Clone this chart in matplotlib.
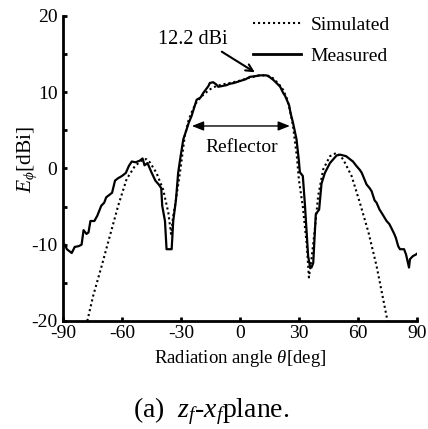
import numpy as np
import matplotlib
matplotlib.use('Agg')
import matplotlib.pyplot as plt
from matplotlib.lines import Line2D

plt.rcParams['font.family'] = ['Liberation Serif', 'DejaVu Serif']
plt.rcParams['mathtext.fontset'] = 'custom'
plt.rcParams['mathtext.rm'] = 'Liberation Serif'
plt.rcParams['mathtext.it'] = 'Liberation Serif:italic'
plt.rcParams['axes.unicode_minus'] = False

# measured pattern (deg, dBi)
theta_meas = [-90, -89, -88, -86, -85.5, -84, -82, -80.5, -79.5, -78, -77, -76, -74,
              -72.5, -70.5, -69, -68, -66, -65, -63.5, -62, -60, -58, -56.5, -55,
              -53, -51, -50, -49.5, -48.5, -47, -45, -43, -41, -40, -39.5, -38.1,
              -37.3, -34.7, -33.9, -32.5, -31.4, -30.5, -28.8, -27.1, -26, -24.6,
              -22, -20, -18.6, -16, -15.3, -13.6, -12, -11, -9, -7, -5, -3, 0, 3,
              5, 8, 10, 12, 13.5, 15, 17, 19, 20.5, 22, 23, 25, 25.8, 27, 28.8, 30,
              30.5, 32, 33, 34.7, 35.6, 36.4, 37.3, 38.6, 40.3, 41.5, 43.2, 45.8,
              47.5, 49.2, 51, 52.5, 54, 56, 57.5, 59.3, 61, 62, 64.4, 66, 67, 68.5,
              69.5, 71, 72, 74.6, 76, 77, 78.5, 79.3, 80.5, 81.4, 83.5, 84.5, 86,
              86.5, 88, 89.5, 90]
e_meas = [-10.0, -10.0, -10.6, -11.0, -11.1, -10.3, -10.2, -10.0, -8.1, -8.6, -8.4,
          -6.9, -6.9, -6.2, -4.9, -4.5, -3.8, -3.4, -3.2, -1.6, -1.3, -1.0, -0.6,
          0.3, 0.9, 0.8, 1.0, 1.2, 1.3, 0.4, 0.7, -0.5, -1.6, -2.2, -2.6, -4.9,
          -6.9, -10.6, -10.6, -6.9, -4.1, -0.6, 1.0, 3.8, 5.1, 6.0, 6.85, 9.0, 9.3,
          9.9, 10.8, 11.2, 11.3, 11.0, 10.7, 10.8, 10.9, 11.1, 11.2, 11.45, 11.7,
          12.0, 12.1, 12.2, 12.2, 12.2, 12.0, 11.6, 11.1, 10.7, 9.9, 9.5, 8.3, 7.2,
          6.0, 3.8, 1.0, -0.5, -1.0, -4.5, -11.5, -12.8, -13.0, -12.4, -6.0, -5.4,
          -2.0, -0.6, 0.7, 1.2, 1.7, 1.8, 1.7, 1.6, 1.2, 0.9, 0.3, -0.2, -0.6,
          -2.1, -2.6, -3.0, -4.2, -4.5, -5.4, -5.8, -6.9, -7.3, -7.8, -8.6, -9.1,
          -10.2, -10.6, -10.6, -11.3, -13.0, -11.9, -11.5, -11.3, -11.2]

# simulated pattern (deg, dBi)
theta_sim = [-77.6, -74.6, -70.3, -66.6, -61.9, -57.6, -53.4, -49.2, -47.5, -45.8,
             -42.4, -39, -36.4, -35, -33.9, -33, -30.5, -28, -26, -24, -22, -20,
             -18, -15, -12, -9, -5, 0, 5, 10, 14, 17, 20, 22, 24, 25.5, 27, 28, 29,
             30, 32, 34, 35.1, 36.4, 38.1, 39.8, 42.4, 45.8, 49.2, 52.5, 56.8, 61,
             65.4, 69.5, 74.6, 75.1]
e_sim = [-20.0, -16.7, -12.8, -9.3, -4.9, -1.4, 0.3, 1.2, 1.2, 0.8, -0.6, -2.8,
         -5.8, -8.6, -6.2, -4.9, -0.6, 4.3, 6.4, 7.7, 8.7, 9.3, 9.8, 10.4, 10.8,
         11.0, 11.2, 11.5, 11.9, 12.2, 12.2, 11.8, 11.0, 10.3, 9.1, 7.6, 5.6, 3.5,
         1.5, -1.5, -5.0, -10.0, -14.3, -11.9, -8.0, -3.6, -0.1, 1.6, 2.05, 1.2,
         -1.0, -4.5, -8.4, -12.8, -19.4, -20.0]

peak_gain = 12.2
reflector_span = (-24.4, 25.4)

fig = plt.figure(figsize=(4.28, 4.29), dpi=100, facecolor='white')
ax = fig.add_axes([0.147, 0.252, 0.827, 0.711])

ax.plot(theta_sim, e_sim, color='black', linestyle=(0, (1, 1.4)), linewidth=1.5)
ax.plot(theta_meas, e_meas, color='black', linestyle='-', linewidth=1.6)

ax.set_xlim(-90, 90)
ax.set_ylim(-20, 20)
ax.set_xticks(np.arange(-90, 91, 30))
ax.set_yticks(np.arange(-20, 21, 10))
ax.set_yticks(np.arange(-15, 20, 10), minor=True)
ax.tick_params(which='both', direction='in', length=3, width=2, labelsize=14)
ax.tick_params(axis='x', pad=3)
ax.tick_params(axis='y', pad=4)
for s in ['top', 'right']:
    ax.spines[s].set_visible(False)
for s in ['left', 'bottom']:
    ax.spines[s].set_linewidth(2)

ax.set_xlabel(r'Radiation angle $\theta$[deg]', fontsize=13.5, labelpad=4)
ax.set_ylabel(r'$E_{\phi}$[dBi]', fontsize=15.5)
ax.yaxis.set_label_coords(-0.068, 0.53)

# peak gain label
ax.text(-41.7, 16.9, '%.1f dBi' % peak_gain, fontsize=14.5, ha='left', va='center')
ax.annotate('', xy=(7.6, peak_gain + 0.4), xytext=(-9.2, 15.3),
            arrowprops=dict(arrowstyle='->,head_length=0.5,head_width=0.25',
                            color='black', linewidth=1.5, shrinkA=0, shrinkB=0))

# reflector width
ax.annotate('', xy=(reflector_span[0], 5.56), xytext=(reflector_span[1], 5.56),
            arrowprops=dict(arrowstyle='<|-|>,head_length=0.7,head_width=0.28',
                            color='black', linewidth=1.0, shrinkA=0, shrinkB=0))
ax.text(1, 2.75, 'Reflector', fontsize=14, ha='center', va='center')

handles = [Line2D([], [], color='black', linestyle=(0, (1, 1.4)), linewidth=1.5),
           Line2D([], [], color='black', linestyle='-', linewidth=2)]
fig.legend(handles, ['Simulated', 'Measured'], loc='upper left',
           bbox_to_anchor=(0.59, 0.962), frameon=False, fontsize=14,
           handlelength=2.5, handletextpad=0.5, labelspacing=0.7,
           borderpad=0, borderaxespad=0)

fig.text(0.31, 0.042, r'(a)  $z_f$-$x_f$plane.', fontsize=20, ha='left',
         va='center')

fig.savefig('out.png', dpi=100, facecolor='white')
